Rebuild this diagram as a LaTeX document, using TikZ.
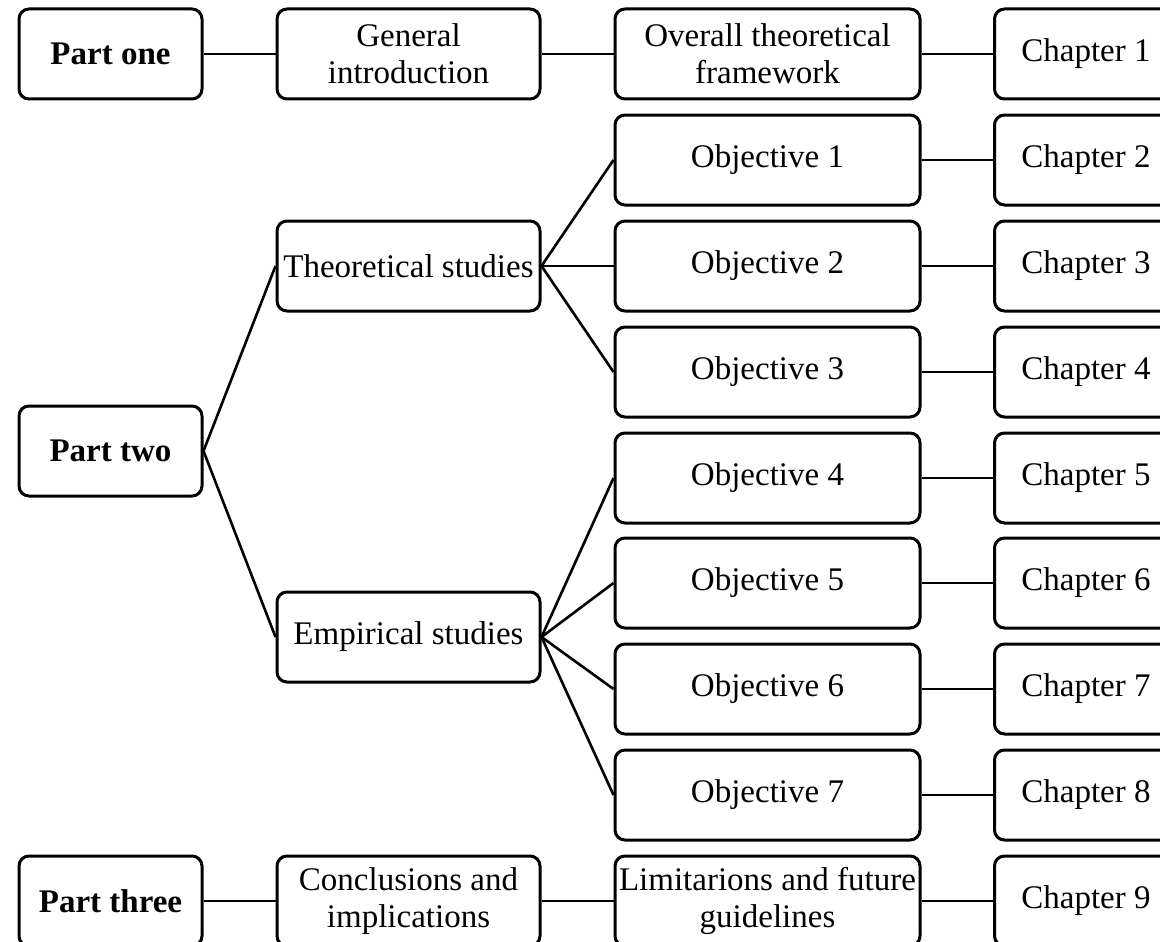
\documentclass[tikz,border=0pt]{standalone}
\usepackage{fontspec}
\setmainfont{Liberation Serif}
\begin{document}
\begin{tikzpicture}[x=1pt,y=-1pt,
  box/.style={draw, rounded corners=10pt, line width=3pt, minimum height=90pt,
    align=center, inner sep=1pt, font=\fontsize{33}{37}\selectfont},
  partbox/.style={box, minimum width=183pt, font=\fontsize{33}{37}\selectfont\bfseries},
  midbox/.style={box, minimum width=263pt},
  objbox/.style={box, minimum width=305pt},
  chapbox/.style={box, minimum width=183pt},
  link/.style={line width=2.6pt}]
% page frame (right column and bottom row run off the page)
\clip (0,0) rectangle (1160,942);

% row centres
\def\ra{54}\def\rb{160}\def\rc{266}\def\rd{372}\def\re{478}
\def\rf{583}\def\rg{689}\def\rh{795}\def\ri{901}

% column 1: parts
\node[partbox] (p1) at (110.5,\ra) {Part one};
\node[partbox] (p2) at (110.5,451) {Part two};
\node[partbox] (p3) at (110.5,\ri) {Part three};

% column 2
\node[midbox] (gi) at (408.5,\ra) {General\\introduction};
\node[midbox] (th) at (408.5,\rc) {Theoretical studies};
\node[midbox] (em) at (408.5,637) {Empirical studies};
\node[midbox] (ci) at (408.5,\ri) {Conclusions and\\implications};

% column 3
\node[objbox] (of) at (767.5,\ra) {Overall theoretical\\framework};
\node[objbox] (o1) at (767.5,\rb) {Objective 1};
\node[objbox] (o2) at (767.5,\rc) {Objective 2};
\node[objbox] (o3) at (767.5,\rd) {Objective 3};
\node[objbox] (o4) at (767.5,\re) {Objective 4};
\node[objbox] (o5) at (767.5,\rf) {Objective 5};
\node[objbox] (o6) at (767.5,\rg) {Objective 6};
\node[objbox] (o7) at (767.5,\rh) {Objective 7};
\node[objbox] (lf) at (767.5,\ri) {Limitarions and future\\guidelines};

% column 4: chapters
\node[chapbox] (c1) at (1086,\ra) {Chapter 1};
\node[chapbox] (c2) at (1086,\rb) {Chapter 2};
\node[chapbox] (c3) at (1086,\rc) {Chapter 3};
\node[chapbox] (c4) at (1086,\rd) {Chapter 4};
\node[chapbox] (c5) at (1086,\re) {Chapter 5};
\node[chapbox] (c6) at (1086,\rf) {Chapter 6};
\node[chapbox] (c7) at (1086,\rg) {Chapter 7};
\node[chapbox] (c8) at (1086,\rh) {Chapter 8};
\node[chapbox] (c9) at (1086,\ri) {Chapter 9};

% connectors
\draw[link] (p1.east) -- (gi.west);
\draw[link] (gi.east) -- (of.west);
\draw[link] (of.east) -- (c1.west);

\draw[link] (p2.east) -- (th.west);
\draw[link] (p2.east) -- (em.west);
\foreach \o in {o1,o2,o3} \draw[link] (th.east) -- (\o.west);
\foreach \o in {o4,o5,o6,o7} \draw[link] (em.east) -- (\o.west);
\foreach \o/\c in {o1/c2,o2/c3,o3/c4,o4/c5,o5/c6,o6/c7,o7/c8}
  \draw[link] (\o.east) -- (\c.west);

\draw[link] (p3.east) -- (ci.west);
\draw[link] (ci.east) -- (lf.west);
\draw[link] (lf.east) -- (c9.west);
\end{tikzpicture}
\end{document}
